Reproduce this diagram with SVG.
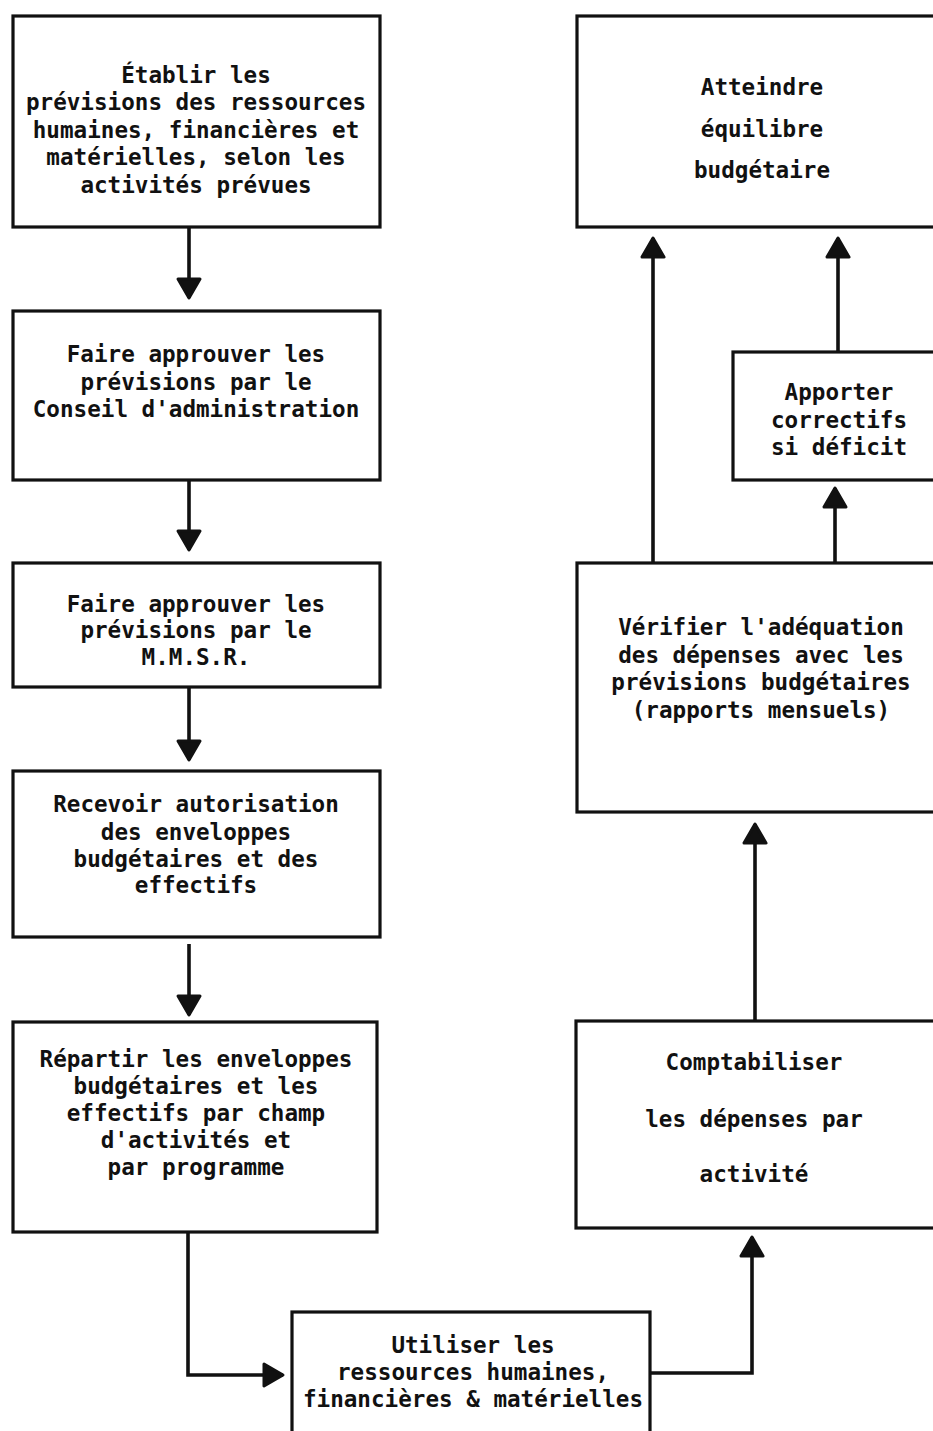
<svg xmlns="http://www.w3.org/2000/svg" width="933" height="1431" viewBox="0 0 933 1431">
  <style>
    .box { fill: none; stroke: #111; stroke-width: 3.2; }
    .lbl { font-family: "DejaVu Sans Mono", "Liberation Mono", monospace; font-size: 22.6px; font-weight: bold; fill: #111; text-anchor: middle; }
    .wire { fill: none; stroke: #111; stroke-width: 3.6; stroke-linejoin: miter; }
  </style>
  <defs>
    <!-- solid, slightly rounded triangular arrowhead -->
    <marker id="head" markerUnits="userSpaceOnUse" markerWidth="26" markerHeight="28" viewBox="0 0 26 28" refX="22" refY="14" orient="auto">
      <path d="M3,3 L22,14 L3,25 Z" fill="#111" stroke="#111" stroke-width="3" stroke-linejoin="round"/>
    </marker>
  </defs>
  <rect width="933" height="1431" fill="#fff"/>

  <!-- left column -->
  <g id="etablir">
    <rect class="box" x="13" y="16" width="367" height="211"/>
    <text class="lbl" x="196" y="83">Établir les</text>
    <text class="lbl" x="196" y="110">prévisions des ressources</text>
    <text class="lbl" x="196" y="138">humaines, financières et</text>
    <text class="lbl" x="196" y="165">matérielles, selon les</text>
    <text class="lbl" x="196" y="193">activités prévues</text>
  </g>
  <g id="approuver-ca">
    <rect class="box" x="13" y="311" width="367" height="169"/>
    <text class="lbl" x="196" y="362">Faire approuver les</text>
    <text class="lbl" x="196" y="390">prévisions par le</text>
    <text class="lbl" x="196" y="417">Conseil d'administration</text>
  </g>
  <g id="approuver-mmsr">
    <rect class="box" x="13" y="563" width="367" height="124"/>
    <text class="lbl" x="196" y="612">Faire approuver les</text>
    <text class="lbl" x="196" y="638">prévisions par le</text>
    <text class="lbl" x="196" y="665">M.M.S.R.</text>
  </g>
  <g id="recevoir">
    <rect class="box" x="13" y="771" width="367" height="166"/>
    <text class="lbl" x="196" y="812">Recevoir autorisation</text>
    <text class="lbl" x="196" y="840">des enveloppes</text>
    <text class="lbl" x="196" y="867">budgétaires et des</text>
    <text class="lbl" x="196" y="893">effectifs</text>
  </g>
  <g id="repartir">
    <rect class="box" x="13" y="1022" width="364" height="210"/>
    <text class="lbl" x="196" y="1067">Répartir les enveloppes</text>
    <text class="lbl" x="196" y="1094">budgétaires et les</text>
    <text class="lbl" x="196" y="1121">effectifs par champ</text>
    <text class="lbl" x="196" y="1148">d'activités et</text>
    <text class="lbl" x="196" y="1175">par programme</text>
  </g>

  <!-- bottom -->
  <g id="utiliser">
    <rect class="box" x="292" y="1312" width="358" height="140"/>
    <text class="lbl" x="473" y="1353">Utiliser les</text>
    <text class="lbl" x="473" y="1380">ressources humaines,</text>
    <text class="lbl" x="473" y="1407">financières &amp; matérielles</text>
  </g>

  <!-- right column -->
  <g id="comptabiliser">
    <rect class="box" x="576" y="1021" width="380" height="207"/>
    <text class="lbl" x="754" y="1070">Comptabiliser</text>
    <text class="lbl" x="754" y="1127">les dépenses par</text>
    <text class="lbl" x="754" y="1182">activité</text>
  </g>
  <g id="verifier">
    <rect class="box" x="577" y="563" width="380" height="249"/>
    <text class="lbl" x="761" y="635">Vérifier l'adéquation</text>
    <text class="lbl" x="761" y="663">des dépenses avec les</text>
    <text class="lbl" x="761" y="690">prévisions budgétaires</text>
    <text class="lbl" x="761" y="718">(rapports mensuels)</text>
  </g>
  <g id="correctifs">
    <rect class="box" x="733" y="352" width="220" height="128"/>
    <text class="lbl" x="839" y="400">Apporter</text>
    <text class="lbl" x="839" y="428">correctifs</text>
    <text class="lbl" x="839" y="455">si déficit</text>
  </g>
  <g id="atteindre">
    <rect class="box" x="577" y="16" width="380" height="211"/>
    <text class="lbl" x="762" y="95">Atteindre</text>
    <text class="lbl" x="762" y="137">équilibre</text>
    <text class="lbl" x="762" y="178">budgétaire</text>
  </g>

  <!-- connectors -->
  <g id="connectors" class="wire">
    <path class="wire" d="M189,227 V298" marker-end="url(#head)"/>
    <path class="wire" d="M189,480 V550" marker-end="url(#head)"/>
    <path class="wire" d="M189,687 V760" marker-end="url(#head)"/>
    <path class="wire" d="M189,944 V1015" marker-end="url(#head)"/>
    <path class="wire" d="M188,1232 V1375 H283" marker-end="url(#head)"/>
    <path class="wire" d="M650,1373 H752 V1237" marker-end="url(#head)"/>
    <path class="wire" d="M755,1021 V824" marker-end="url(#head)"/>
    <path class="wire" d="M835,563 V488" marker-end="url(#head)"/>
    <path class="wire" d="M653,563 V238" marker-end="url(#head)"/>
    <path class="wire" d="M838,352 V238" marker-end="url(#head)"/>
  </g>
</svg>
